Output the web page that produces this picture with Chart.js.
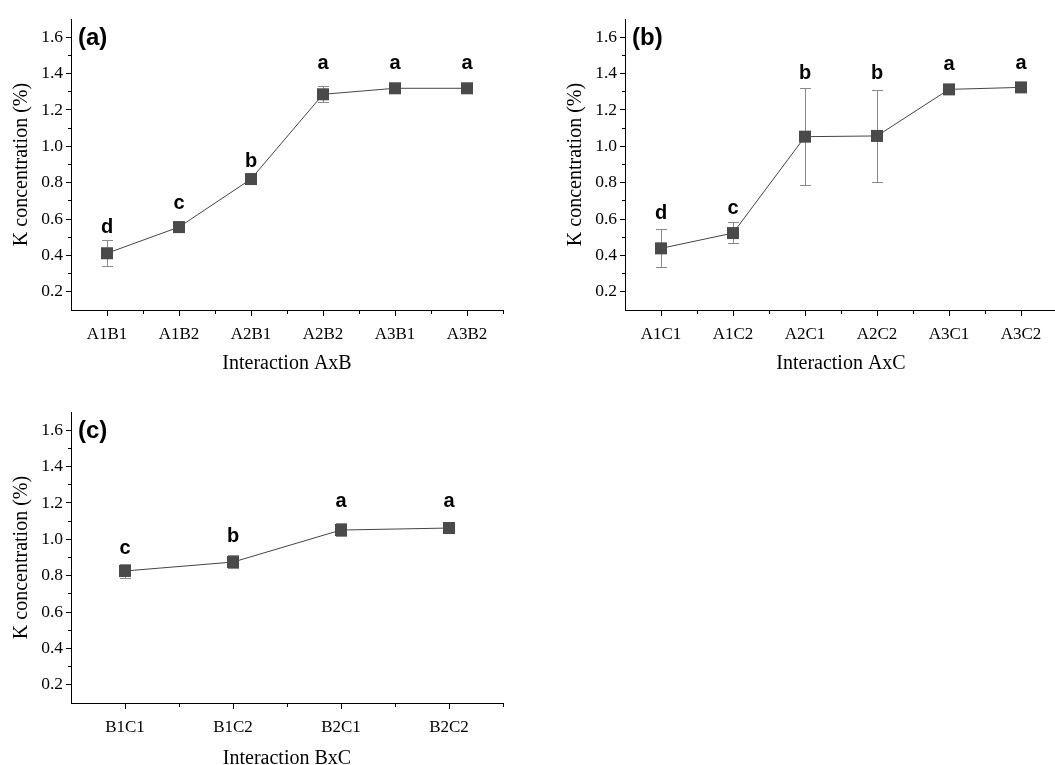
<!DOCTYPE html>
<html><head><meta charset="utf-8">
<script src="https://cdn.jsdelivr.net/npm/chart.js@4"></script>
<style>
html,body{margin:0;padding:0;background:#fff;width:1055px;height:765px;overflow:hidden;position:relative}
canvas{position:absolute;display:block}
</style></head><body>
<canvas id="ca" width="527" height="380" style="left:0;top:0"></canvas>
<canvas id="cb" width="527" height="380" style="left:554px;top:0"></canvas>
<canvas id="cc" width="527" height="380" style="left:0;top:393px"></canvas>
<script>
// ---- data ----
const yTickLabels = ['0.2','0.4','0.6','0.8','1.0','1.2','1.4','1.6'];

const catsAB = ['A1B1','A1B2','A2B1','A2B2','A3B1','A3B2'];
const meanAB = [0.412,0.556,0.820,1.286,1.319,1.319];
const lowAB  = [0.344,0.530,0.808,1.242,1.310,1.312];
const highAB = [0.483,0.580,0.832,1.333,1.328,1.326];
const lettersAB = ['d','c','b','a','a','a'];
const letterYAB = [0.555,0.687,0.918,1.457,1.457,1.457];

const catsAC = ['A1C1','A1C2','A2C1','A2C2','A3C1','A3C2'];
const meanAC = [0.439,0.523,1.053,1.057,1.313,1.324];
const lowAC  = [0.338,0.467,0.787,0.806,1.300,1.315];
const highAC = [0.547,0.586,1.319,1.310,1.326,1.333];
const lettersAC = ['d','c','b','b','a','a'];
const letterYAC = [0.632,0.659,1.402,1.402,1.451,1.457];

const catsBC = ['B1C1','B1C2','B2C1','B2C2'];
const meanBC = [0.826,0.875,1.051,1.062];
const lowBC  = [0.786,0.840,1.018,1.040];
const highBC = [0.866,0.915,1.088,1.080];
const lettersBC = ['c','b','a','a'];
const letterYBC = [0.947,1.013,1.207,1.207];

const SERIF = '"Liberation Serif","Times New Roman",serif';
const SANS = '"Liberation Sans",Arial,sans-serif';

const annoPlugin = {
  id: 'anno',
  beforeDatasetsDraw(chart, args, o) {
    const {ctx, scales: {x, y}} = chart;
    ctx.save();
    ctx.strokeStyle = '#8a8a8a';
    ctx.lineWidth = 1;
    o.low.forEach((lo, i) => {
      const px = Math.round(x.getPixelForValue(i)) + 0.5;
      const y1 = Math.round(y.getPixelForValue(lo)) + 0.5;
      const y2 = Math.round(y.getPixelForValue(o.high[i])) + 0.5;
      ctx.beginPath();
      ctx.moveTo(px, y1); ctx.lineTo(px, y2);
      ctx.moveTo(px - 5.5, y1); ctx.lineTo(px + 5.5, y1);
      ctx.moveTo(px - 5.5, y2); ctx.lineTo(px + 5.5, y2);
      ctx.stroke();
    });
    ctx.restore();
  },
  afterDatasetsDraw(chart, args, o) {
    const {ctx, scales: {x, y}, chartArea} = chart;
    ctx.save();
    ctx.fillStyle = '#000';
    ctx.textAlign = 'center';
    ctx.textBaseline = 'middle';
    ctx.font = 'bold 20px ' + SANS;
    o.letters.forEach((t, i) => {
      ctx.fillText(t, x.getPixelForValue(i), y.getPixelForValue(o.letterY[i]));
    });
    ctx.textAlign = 'left';
    ctx.font = 'bold 24px ' + SANS;
    ctx.fillText(o.panel, chartArea.left + 7, chartArea.top + 19);
    ctx.restore();
  }
};

function makeChart(id, cats, mean, low, high, letters, letterY, panel, xTitle, titlePadB) {
  const n = cats.length;
  return new Chart(document.getElementById(id), {
    type: 'line',
    data: {
      datasets: [{
        data: mean.map((v, i) => ({x: i, y: v})),
        borderColor: '#444',
        borderWidth: 1,
        pointStyle: 'rect',
        pointRadius: 8.5,
        pointBackgroundColor: '#4a4a4a',
        pointBorderColor: '#4a4a4a',
        pointBorderWidth: 0,
        tension: 0
      }]
    },
    options: {
      responsive: false,
      animation: false,
      events: [],
      layout: {padding: {top: 19, right: 24, left: 0, bottom: 0}},
      plugins: {
        legend: {display: false},
        tooltip: {enabled: false},
        anno: {low, high, letters, letterY, panel}
      },
      scales: {
        x: {
          type: 'linear',
          min: -0.5, max: n - 0.5,
          afterFit: s => { s.height = 70; },
          afterBuildTicks: s => { s.ticks = s.ticks.filter(t => t.value > -0.4); },
          ticks: {
            stepSize: 0.5,
            autoSkip: false,
            maxRotation: 0,
            padding: 8,
            color: '#000',
            font: {family: SERIF, size: 17},
            callback: v => Number.isInteger(v) ? cats[v] : ''
          },
          grid: {
            drawOnChartArea: false,
            tickLength: 6,
            tickColor: '#000',
            tickWidth: 1,
            tickBorderDash: c => Number.isInteger(c.tick && c.tick.value) ? [] : [3, 100]
          },
          border: {display: true, color: '#000', width: 1},
          title: {display: true, text: xTitle, color: '#000', font: {family: SERIF, size: 20}, padding: {top: 0, bottom: titlePadB}}
        },
        y: {
          min: 0.1, max: 1.7,
          afterFit: s => { s.width = 71; },
          afterBuildTicks: s => { s.ticks = s.ticks.filter(t => t.value > 0.15 && t.value < 1.65); },
          ticks: {
            stepSize: 0.1,
            autoSkip: false,
            padding: 3,
            color: '#000',
            font: {family: SERIF, size: 17.5},
            callback: v => { const s = Number(v).toFixed(1); return yTickLabels.includes(s) ? s : ''; }
          },
          grid: {
            drawOnChartArea: false,
            tickLength: 5,
            tickColor: '#000',
            tickWidth: 1,
            tickBorderDash: c => {
              const v = c.tick ? Number(c.tick.value).toFixed(1) : '';
              return yTickLabels.includes(v) ? [] : [0, 2, 3, 100];
            }
          },
          border: {display: true, color: '#000', width: 1},
          title: {display: true, text: 'K concentration (%)', color: '#000', font: {family: SERIF, size: 20}, padding: {top: 10, bottom: 0}}
        }
      }
    },
    plugins: [annoPlugin]
  });
}

makeChart('ca', catsAB, meanAB, lowAB, highAB, lettersAB, letterYAB, '(a)', 'Interaction AxB', 4);
makeChart('cb', catsAC, meanAC, lowAC, highAC, lettersAC, letterYAC, '(b)', 'Interaction AxC', 4);
makeChart('cc', catsBC, meanBC, lowBC, highBC, lettersBC, letterYBC, '(c)', 'Interaction BxC', 2);
</script>
</body></html>
